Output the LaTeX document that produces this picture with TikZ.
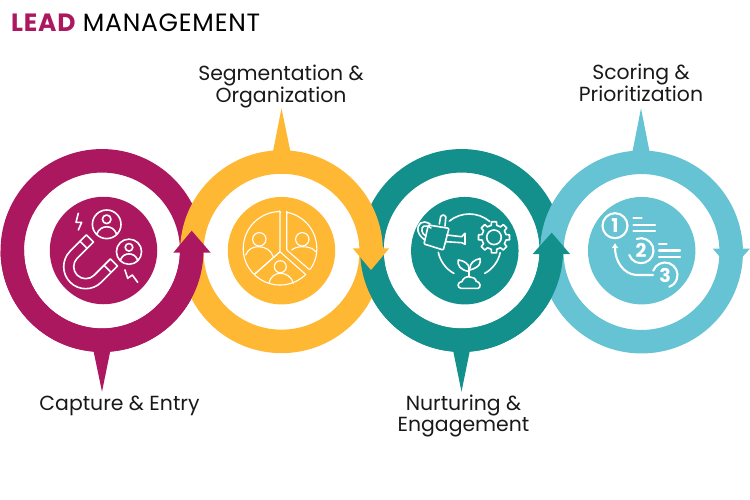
\documentclass[tikz,border=0pt]{standalone}
\usepackage{fontspec}
\setmainfont{Poppins}
\usetikzlibrary{arrows.meta}
\definecolor{leadred}{HTML}{AC185F}
\definecolor{leadamber}{HTML}{FFB833}
\definecolor{leadteal}{HTML}{13908B}
\definecolor{leadsky}{HTML}{66C3D3}
\tikzset{
  ringnode/.style = {circle, line width = 23.5pt, minimum size = 179.4pt, inner sep = 0pt, outer sep = 0pt},
  discnode/.style = {circle, minimum size = 107.5pt, inner sep = 0pt, outer sep = 0pt},
  stagelabel/.style = {font = \fontsize{20.4}{21}\selectfont, align = center, text = black!90},
  iconline/.style = {draw = white, line width = 1.6pt, line join = round, line cap = round},
  numberlabel/.style = {font = \fontsize{19}{19}\bfseries\selectfont, text = white, inner sep = 0pt},
  personicon/.pic = {
    \draw[iconline] (0,0) circle[radius = 14.3];
    \draw[iconline] (0,-5) circle[radius = 4.3];
    \draw[iconline] (-10,10) .. controls (-8,4.5) and (-4,2.5) .. (0,2.5) .. controls (4,2.5) and (8,4.5) .. (10,10);
  }
}
\begin{document}
\begin{tikzpicture}[x=1pt, y=-1pt]
\useasboundingbox (0,0) rectangle (750,500);
\node[anchor = west, font = \fontsize{25}{26}\addfontfeature{LetterSpace=3}\selectfont, inner sep = 0pt] (title) at (11,23) {\textcolor{leadred}{\bfseries LEAD} MANAGEMENT};
% rings, the lower halves of red and teal go on top later
\node[ringnode, draw = leadred] (capturering) at (102,250.5) {};
\node[ringnode, draw = leadteal] (nurturering) at (461.6,250.5) {};
\node[ringnode, draw = leadamber] (segmentring) at (281.5,251.7) {};
\node[ringnode, draw = leadsky] (scoringring) at (641.5,252) {};
\draw[leadred, line width = 23.5pt] (capturering.east) arc[start angle = 0, end angle = 180, radius = 89.7];
\draw[leadteal, line width = 23.5pt] (nurturering.east) arc[start angle = 0, end angle = 180, radius = 89.7];
% spikes
\fill[leadred] (93.3,350) -- (102,391.7) -- (110.5,350) -- cycle;
\fill[leadamber] (272.7,153) -- (281.5,108.3) -- (290.7,153) -- cycle;
\fill[leadteal] (453,350) -- (461.5,391.7) -- (470,350) -- cycle;
\fill[leadsky] (632,154) -- (641,108.3) -- (650,154) -- cycle;
% arrowheads
\fill[leadred] (173.3,252.7) -- (191.7,230.7) -- (210.7,252.7) -- cycle;
\fill[leadamber] (352.7,248.3) -- (371,270) -- (389.3,248.3) -- cycle;
\fill[leadteal] (532.7,254) -- (551.7,232.7) -- (570,254) -- cycle;
\fill[leadsky] (712.7,248.5) -- (731,270) -- (750,248.5) -- cycle;
% discs
\node[discnode, fill = leadred] (capturedisc) at (103.5,250.5) {};
\node[discnode, fill = leadamber] (segmentdisc) at (281.5,250.7) {};
\node[discnode, fill = leadteal] (nurturedisc) at (464.8,250.7) {};
\node[discnode, fill = leadsky] (scoringdisc) at (641.7,250.7) {};
% labels
\node[stagelabel] (capturelabel) at (119.5,405.5) {Capture \& Entry};
\node[stagelabel] (segmentlabel) at (281,86.5) {Segmentation \&\\Organization};
\node[stagelabel] (nurturelabel) at (463.5,415.5) {Nurturing \&\\Engagement};
\node[stagelabel] (scoringlabel) at (641,82.5) {Scoring \&\\Prioritization};
% magnet icon
\pic at (106.7,224.3) {personicon};
\pic[scale = 0.88] at (129,251.7) {personicon};
\draw[iconline] (78.3,213.3) -- (76,222.3) -- (81.7,222.3) -- (78.3,230);
\draw[iconline] (125,270) -- (127.7,278.3) -- (132.3,275) -- (137.7,282.3);
\begin{scope}[shift = {(85.7,266.7)}, rotate = -45]
\draw[iconline] (-22,-14) -- (-22,0) arc[start angle = 180, end angle = 0, radius = 22] -- (22,-14) -- (12,-14) -- (12,0) arc[start angle = 0, end angle = 180, radius = 12] -- (-12,-14) -- cycle;
\draw[iconline] (-22,-14) -- (-22,-23) -- (-12,-23) -- (-12,-14);
\draw[iconline] (22,-14) -- (22,-23) -- (12,-23) -- (12,-14);
\end{scope}
% pie icon
\begin{scope}[shift = {(280,248.3)}, iconline/.append style = {line width = 1.1pt}]
\draw[iconline, rounded corners = 1pt] (0,-36.7) -- (0,3.4) -- (-25.7,26.2) arc[start angle = 134.5, end angle = 270, radius = 36.7] -- cycle;
\draw[iconline, rounded corners = 1pt] (6.7,-36) -- (6.7,1.7) -- (29.7,21.6) arc[start angle = 36, end angle = -79.5, radius = 36.7] -- cycle;
\draw[iconline] (0,3.4) -- (25.7,26.2) arc[start angle = 45.5, end angle = 134.5, radius = 36.7] -- cycle;
\end{scope}
\draw[iconline, line width = 1.1pt] (259.3,239.3) circle[radius = 6.7];
\draw[iconline, line width = 1.1pt] (245.7,255) .. controls (248,249) and (253,246.7) .. (258.3,246.7) .. controls (265,246.7) and (271,250) .. (273.3,256.7);
\draw[iconline, line width = 1.1pt] (302.3,239.3) circle[radius = 6.7];
\draw[iconline, line width = 1.1pt] (291.7,250) .. controls (294,248) and (298,246.7) .. (302.3,246.7) .. controls (308,246.7) and (313,248) .. (315.7,251.7);
\draw[iconline, line width = 1.1pt] (280.3,266.7) circle[radius = 6];
\draw[iconline, line width = 1.1pt] (269,283.3) .. controls (270,277) and (275,273.3) .. (280.3,273.3) .. controls (286,273.3) and (292,277) .. (293.3,283.3);
% watering can icon
\draw[iconline, rounded corners = 1pt] (428.3,225) -- (449,228.3) -- (443.3,250) -- (424,244) -- cycle;
\draw[iconline] (430,224) .. controls (422,219) and (417,224) .. (418,231) .. controls (419,235) and (422,238) .. (425,240);
\draw[iconline] (431,228) .. controls (425,224) and (421,226) .. (422,231) .. controls (422,233) and (424,235) .. (426,236);
\draw[iconline] (446.7,235) -- (461.7,236.7) -- (465,233.3) -- (465,244.3) -- (461.7,242.7) -- (446,241.7);
\draw[iconline, rounded corners = 1.5pt] (439.3,224) -- (441,215) -- (446,215.5) -- (445,226);
\draw[iconline] (469.3,245.7) ++(-129:31.7) arc[start angle = -129, end angle = -50, radius = 31.7];
\draw[iconline] (469.3,245.7) ++(168:31.7) arc[start angle = 168, end angle = 119, radius = 31.7];
\draw[iconline] (469.3,245.7) ++(61:31.7) arc[start angle = 61, end angle = 12.5, radius = 31.7];
\begin{scope}[shift = {(494,237.3)}]
\draw[iconline] (0,0) circle[radius = 7.3];
\foreach \a in {0,45,...,315}
  \draw[iconline] (\a-13:12.3) -- (\a-9:15.7) -- (\a+9:15.7) -- (\a+13:12.3) -- (\a+32:12.3);
\end{scope}
\draw[iconline] (469,268) -- (469,276);
\draw[iconline] (469,271.5) .. controls (460,270) and (457,265) .. (458.3,260) .. controls (464,260.5) and (469,264) .. (469,268);
\draw[iconline] (470,270) .. controls (480,267) and (481,263) .. (480,258.5) .. controls (474,260) and (470,263) .. (470,268);
\draw[iconline] (461,288.3) .. controls (457,288) and (457,282) .. (462,281.5) .. controls (463,278) and (467,276) .. (470,277) .. controls (473,276.5) and (476,279) .. (476,281) .. controls (481,282) and (481,288) .. (478,288.3) -- cycle;
% ranking icon
\begin{scope}[iconline/.append style = {line width = 2.1pt}]
\draw[iconline] (615,225.7) circle[radius = 12.5];
\draw[iconline] (633.3,218.3) -- (641.7,218.3);
\draw[iconline] (633.3,225) -- (655,225);
\draw[iconline] (633.3,231) -- (655,231);
\draw[iconline] (641,250.7) ++(-110:12.5) arc[start angle = -110, end angle = 160, radius = 12.5];
\draw[iconline] (659,244) -- (666.7,244);
\draw[iconline] (659,250.5) -- (680,250.5);
\draw[iconline] (659,256.7) -- (680,256.7);
\draw[iconline] (665,275) ++(-160:12.5) arc[start angle = -160, end angle = 70, radius = 12.5];
\draw[iconline, -{Latex[length = 5pt, width = 7pt]}] (653,275) -- (636,275) .. controls (624,274) and (615,262) .. (615,243);
\end{scope}
\node[numberlabel] (rankone) at (615,225.7) {1};
\node[numberlabel] (ranktwo) at (641,250.7) {2};
\node[numberlabel] (rankthree) at (665,275) {3};
\end{tikzpicture}
\end{document}
